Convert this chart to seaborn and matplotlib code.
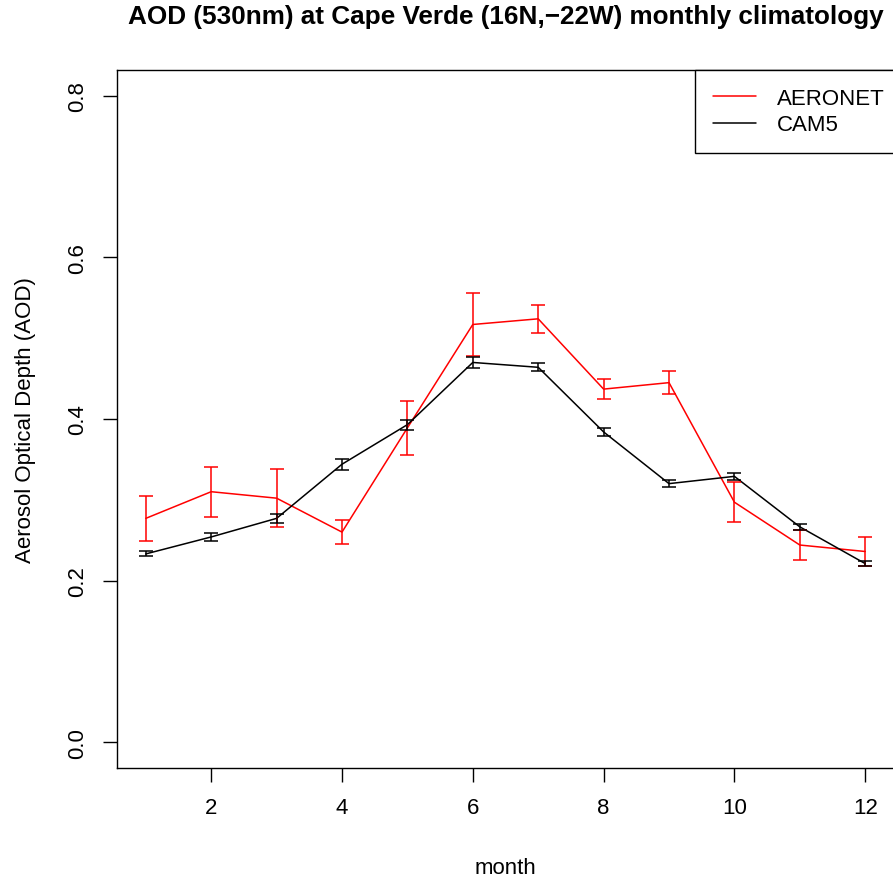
import numpy as np
import pandas as pd
import seaborn as sns
import matplotlib
matplotlib.use("Agg")
import matplotlib.pyplot as plt
from matplotlib.lines import Line2D

# Monthly AOD climatology at Cape Verde
months = [1, 2, 3, 4, 5, 6, 7, 8, 9, 10, 11, 12]
aeronet_mean = [0.277, 0.310, 0.302, 0.260, 0.389, 0.517, 0.524, 0.437, 0.445, 0.297, 0.244, 0.236]
aeronet_err = [0.028, 0.031, 0.036, 0.0145, 0.0335, 0.039, 0.017, 0.012, 0.014, 0.0245, 0.019, 0.0185]
cam5_mean = [0.233, 0.254, 0.277, 0.344, 0.393, 0.470, 0.464, 0.384, 0.320, 0.329, 0.2665, 0.221]
cam5_err = [0.003, 0.0045, 0.006, 0.0066, 0.0062, 0.007, 0.0048, 0.0048, 0.004, 0.0045, 0.0033, 0.003]
series_names = ["AERONET", "CAM5"]
series_colors = {"AERONET": "#ff0000", "CAM5": "#000000"}
x_ticks = [2, 4, 6, 8, 10, 12]
y_ticks = [0.0, 0.2, 0.4, 0.6, 0.8]

sns.set_style("white")
plt.rcParams["font.family"] = ["Liberation Sans", "DejaVu Sans"]
plt.rcParams.update({
    "text.color": "black",
    "axes.labelcolor": "black",
    "xtick.color": "black",
    "ytick.color": "black",
})

df = pd.DataFrame({
    "month": months * 2,
    "aod": aeronet_mean + cam5_mean,
    "err": aeronet_err + cam5_err,
    "source": ["AERONET"] * 12 + ["CAM5"] * 12,
})

W, H = 893, 878
fig = plt.figure(figsize=(W / 100, H / 100), dpi=100)
ax_left, ax_right, ax_top, ax_bottom = 117, 894, 71, 769
ax = fig.add_axes([ax_left / W, 1 - ax_bottom / H,
                   (ax_right - ax_left) / W, (ax_bottom - ax_top) / H])

sns.lineplot(data=df, x="month", y="aod", hue="source", palette=series_colors,
             hue_order=series_names, linewidth=1.1, legend=False, ax=ax,
             errorbar=None, sort=False)

for name in series_names:
    sub = df[df["source"] == name]
    ax.errorbar(sub["month"], sub["aod"], yerr=sub["err"], fmt="none",
                ecolor=series_colors[name], elinewidth=1.1, capsize=4.8,
                capthick=1.1)

ax.set_xlim(1 - 0.44, 12 + 0.44)
ax.set_ylim(-0.032, 0.832)
ax.set_xticks(x_ticks)
ax.set_yticks(y_ticks)
ax.set_xticklabels([str(t) for t in x_ticks])
ax.set_yticklabels([f"{t:.1f}" for t in y_ticks], rotation=90, va="center")
ax.tick_params(axis="both", direction="out", length=10, width=1.0,
               color="black", labelsize=16, pad=11, bottom=True, left=True)

for side in ["left", "right", "top", "bottom"]:
    ax.spines[side].set_visible(True)
    ax.spines[side].set_color("black")
    ax.spines[side].set_linewidth(1.0)

ax.set_xlabel("month", fontsize=16, labelpad=28)
ax.set_ylabel("Aerosol Optical Depth (AOD)", fontsize=16, labelpad=22)

fig.text((ax_left + ax_right) / 2 / W, 1 - 24 / H,
         "AOD (530nm) at Cape Verde (16N,\u221222W) monthly climatology",
         fontsize=18.8, fontweight="bold", ha="center", va="baseline")

handles = [Line2D([0], [0], color=series_colors[n], lw=1.1) for n in series_names]
leg = ax.legend(handles, series_names, loc="upper right", fontsize=16,
                bbox_to_anchor=(902 / W, 1 - 71 / H),
                bbox_transform=fig.transFigure,
                frameon=True, fancybox=False, edgecolor="black", framealpha=1,
                borderaxespad=0, handlelength=1.95, handletextpad=0.9,
                borderpad=0.8, labelspacing=0.25)
leg.get_frame().set_linewidth(1.0)

fig.savefig("out.png", dpi=100)
